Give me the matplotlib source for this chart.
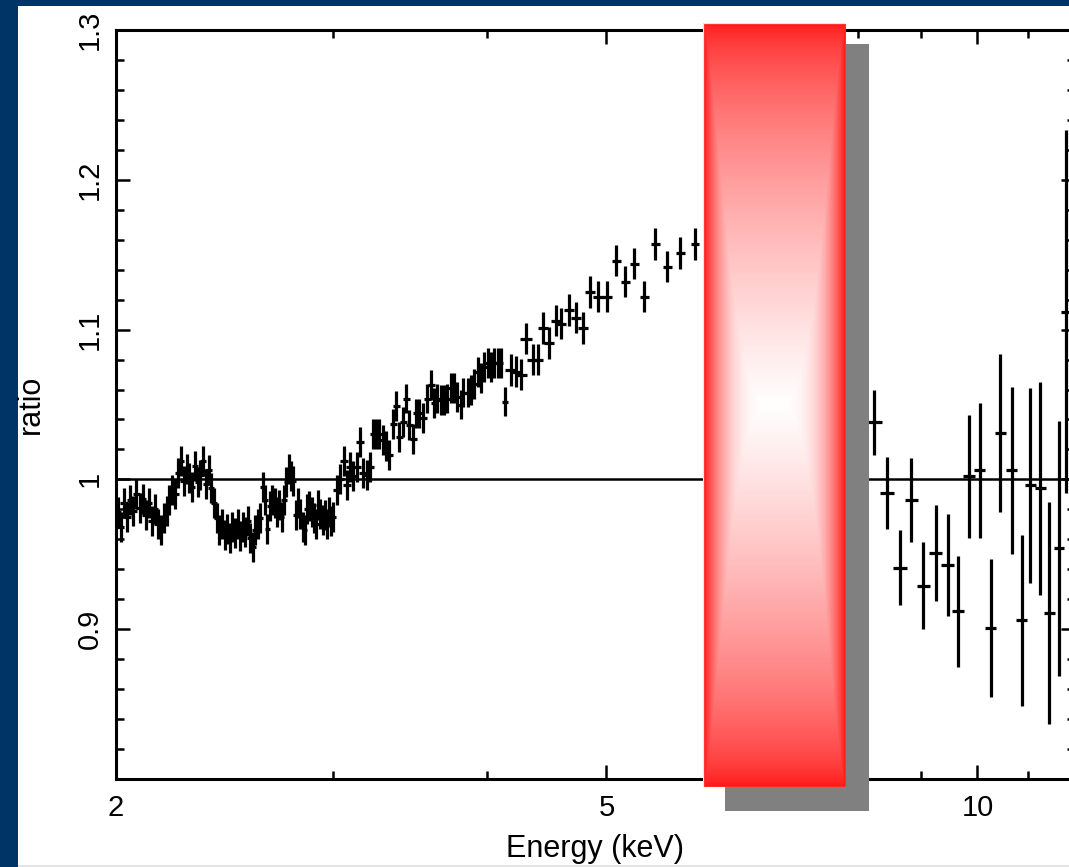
import numpy as np
import matplotlib
matplotlib.use("Agg")
import matplotlib.pyplot as plt
from matplotlib.patches import Rectangle
from matplotlib.ticker import FixedLocator, NullFormatter, MultipleLocator

# ---------------- data: ratio of data to model vs energy (keV) ----------------
energy_soft = [2.006, 2.018, 2.030, 2.042, 2.054, 2.066, 2.078, 2.090, 2.102, 2.114,
               2.126, 2.138, 2.150, 2.162, 2.174, 2.186, 2.198, 2.210, 2.222, 2.234,
               2.246, 2.258, 2.270, 2.282, 2.294, 2.306, 2.318, 2.330, 2.342, 2.354,
               2.366, 2.378, 2.390, 2.402, 2.414, 2.426, 2.438, 2.450, 2.462, 2.474,
               2.486, 2.498, 2.510, 2.522, 2.534, 2.546, 2.558, 2.570, 2.582, 2.594,
               2.606, 2.618, 2.630, 2.642, 2.654, 2.666, 2.678, 2.690, 2.702, 2.714,
               2.726, 2.738, 2.750, 2.762, 2.774, 2.786, 2.798, 2.810, 2.822, 2.834,
               2.846, 2.858, 2.870, 2.882, 2.894, 2.906, 2.918, 2.930, 2.942, 2.954,
               2.966, 2.978, 2.990, 3.002]
ratio_soft = [0.978, 0.968, 0.984, 0.975, 0.986, 0.979, 0.990, 0.981, 0.987, 0.976,
              0.984, 0.972, 0.980, 0.970, 0.966, 0.974, 0.979, 0.986, 0.993, 0.990,
              1.004, 1.012, 0.999, 1.007, 1.001, 0.995, 1.009, 0.998, 1.003, 1.012,
              0.997, 1.006, 0.994, 0.984, 0.974, 0.966, 0.970, 0.963, 0.967, 0.961,
              0.968, 0.964, 0.970, 0.962, 0.968, 0.965, 0.972, 0.961, 0.955, 0.966,
              0.970, 0.974, 0.995, 0.986, 0.967, 0.982, 0.986, 0.984, 0.978, 0.983,
              0.975, 0.986, 0.998, 1.007, 1.002, 0.999, 0.976, 0.984, 0.977, 0.968,
              0.966, 0.980, 0.982, 0.978, 0.974, 0.970, 0.983, 0.977, 0.973, 0.976,
              0.970, 0.978, 0.972, 0.975]
xerr_soft = 0.014
yerr_soft = 0.010

energy_mid = [3.022, 3.040, 3.063, 3.080, 3.097, 3.115, 3.138, 3.156, 3.174, 3.198,
              3.216, 3.234, 3.252, 3.270, 3.295, 3.313, 3.332, 3.358, 3.377, 3.396,
              3.421, 3.441, 3.460, 3.486, 3.505, 3.525, 3.552, 3.579, 3.605, 3.626,
              3.646, 3.673, 3.694, 3.715, 3.743, 3.764, 3.785, 3.807, 3.828, 3.857,
              3.879, 3.901, 3.930, 3.953, 3.975, 4.005, 4.027, 4.050, 4.080, 4.103,
              4.135]
ratio_mid = [0.993, 1.000, 1.012, 0.996, 1.008, 1.002, 1.008, 1.025, 1.004, 1.003,
             1.008, 1.030, 1.030, 1.030, 1.026, 1.022, 1.016, 1.037, 1.049, 1.028,
             1.038, 1.054, 1.036, 1.027, 1.044, 1.044, 1.041, 1.054, 1.063, 1.051,
             1.054, 1.053, 1.053, 1.054, 1.061, 1.061, 1.055, 1.050, 1.058, 1.058,
             1.060, 1.064, 1.072, 1.068, 1.075, 1.078, 1.075, 1.078, 1.078, 1.078,
             1.052]
xerr_mid = 0.022
yerr_mid = 0.010

energy_upper = [4.182, 4.222, 4.262, 4.303, 4.359, 4.399, 4.441, 4.492, 4.551, 4.593,
                4.663, 4.725, 4.787, 4.850, 4.924, 5.007, 5.093, 5.179, 5.268, 5.367,
                5.479, 5.603, 5.742, 5.896, 6.041]
ratio_upper = [1.073, 1.072, 1.070, 1.094, 1.080, 1.080, 1.101, 1.091, 1.106, 1.104,
               1.113, 1.108, 1.101, 1.125, 1.122, 1.122, 1.146, 1.132, 1.144, 1.122,
               1.157, 1.142, 1.151, 1.157, 1.160]
xerr_upper = 0.045
yerr_upper = 0.0105

energy_hard = [8.25, 8.45, 8.65, 8.84, 9.04, 9.25, 9.46, 9.65, 9.84, 10.04,
               10.25, 10.44, 10.66, 10.86, 11.04, 11.25, 11.44, 11.64, 11.81]
ratio_hard = [1.038, 0.991, 0.941, 0.986, 0.929, 0.951, 0.943, 0.912, 1.002, 1.006,
              0.901, 1.031, 1.006, 0.906, 0.996, 0.994, 0.911, 0.954, 1.112]
yerr_hard = [0.022, 0.024, 0.025, 0.028, 0.029, 0.032, 0.034, 0.037, 0.041, 0.045,
             0.046, 0.053, 0.056, 0.057, 0.065, 0.071, 0.074, 0.085, 0.121]
xerr_hard = 0.11

x_major = [2, 5, 10]
x_major_labels = ["2", "5", "10"]
x_minor = [3, 4, 6, 7, 8, 9, 11]
y_major = [0.9, 1.0, 1.1, 1.2, 1.3]
y_major_labels = ["0.9", "1", "1.1", "1.2", "1.3"]

# ---------------- figure ----------------
plt.rcParams['font.family'] = ['Liberation Sans', 'DejaVu Sans']

W, H = 1069, 867
fig = plt.figure(figsize=(W / 100, H / 100), dpi=100, facecolor='#003366')


def fig_box(x0, y0, x1, y1):
    """Pixel box (left, top, right, bottom) -> figure fraction rect."""
    return [x0 / W, (H - y1) / H, (x1 - x0) / W, (y1 - y0) / H]


# white slide panel with a light strip underneath
r = fig_box(18, 6, W, 865)
fig.patches.append(Rectangle((r[0], r[1]), r[2], r[3], transform=fig.transFigure,
                             facecolor='white', edgecolor='none', zorder=-3))
r = fig_box(18, 865, W, H)
fig.patches.append(Rectangle((r[0], r[1]), r[2], r[3], transform=fig.transFigure,
                             facecolor='#e4e4e4', edgecolor='none', zorder=-3))

ax = fig.add_axes(fig_box(116, 30, 1075, 779))
ax.set_facecolor('white')

eb_kw = dict(fmt='none', ecolor='black', elinewidth=2.3, capsize=0, zorder=3)
ax.errorbar(energy_soft, ratio_soft, xerr=xerr_soft, yerr=yerr_soft, **eb_kw)
ax.errorbar(energy_mid, ratio_mid, xerr=xerr_mid, yerr=yerr_mid, **eb_kw)
ax.errorbar(energy_upper, ratio_upper, xerr=xerr_upper, yerr=yerr_upper, **eb_kw)
ax.errorbar(energy_hard, ratio_hard, xerr=xerr_hard, yerr=yerr_hard, **eb_kw)

ax.axhline(1.0, color='black', lw=1.8, zorder=2)

ax.set_xscale('log')
ax.set_xlim(2, 12)
ax.set_ylim(0.8, 1.3)
ax.xaxis.set_major_locator(FixedLocator(x_major))
ax.set_xticklabels(x_major_labels)
ax.xaxis.set_minor_locator(FixedLocator(x_minor))
ax.xaxis.set_minor_formatter(NullFormatter())
ax.set_yticks(y_major)
ax.set_yticklabels(y_major_labels)
ax.yaxis.set_minor_locator(MultipleLocator(0.02))

for sp in ax.spines.values():
    sp.set_linewidth(2.2)
ax.tick_params(which='both', direction='in', top=True, right=True,
               width=1.8, color='black', labelsize=21)
ax.tick_params(which='major', length=10)
ax.tick_params(which='minor', length=5.8)
ax.tick_params(axis='x', pad=11)
ax.tick_params(axis='y', pad=9, labelrotation=90)
for lbl in ax.get_yticklabels():
    lbl.set_verticalalignment('center')

ax.set_xlabel('Energy (keV)', fontsize=22)
ax.set_ylabel('ratio', fontsize=22)
ax.xaxis.set_label_coords(0.5, -0.073)
ax.yaxis.set_label_coords(-0.073, 0.5)

# grey drop shadow and red gradient panel over the 6-8 keV band
r = fig_box(725, 44, 869, 811)
fig.patches.append(Rectangle((r[0], r[1]), r[2], r[3], transform=fig.transFigure,
                             facecolor='#808080', edgecolor='none', zorder=5))

bx = fig.add_axes(fig_box(703, 23, 846, 787), zorder=10)
nx, ny = 300, 900
u = np.linspace(0, 1, nx)
v = np.linspace(0, 1, ny)
tx = 1 - np.abs(2 * u - 1)
ty = 1 - np.abs(2 * v - 1)
fade_h = 1 - (1 - tx) ** 3
fade_v = ty ** 0.6
t = np.minimum(fade_h[None, :], fade_v[:, None])
red = np.array([1.0, 0.07, 0.07])
img = red[None, None, :] + (1 - red[None, None, :]) * t[:, :, None]
bx.imshow(img, aspect='auto', extent=(0, 1, 0, 1), interpolation='bilinear')
bx.add_patch(Rectangle((0, 0), 1, 1, transform=bx.transAxes, fill=False,
                       edgecolor='#ffe0e0', lw=0.9))
bx.set_xlim(0, 1)
bx.set_ylim(0, 1)
bx.axis('off')

fig.savefig('out.png', dpi=100, facecolor=fig.get_facecolor())
